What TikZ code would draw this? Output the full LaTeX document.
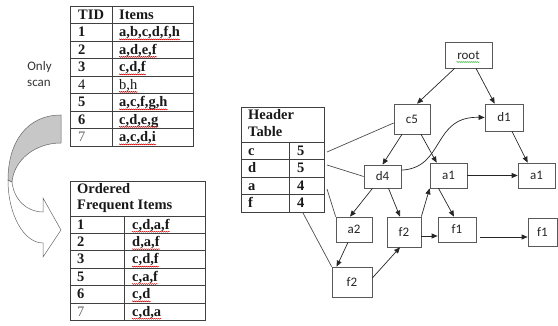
\documentclass[tikz,border=0pt]{standalone}
\usepackage{fontspec}
\setmainfont{Liberation Serif}
\newfontfamily\carl{Carlito}
\usetikzlibrary{arrows.meta,calc,decorations.pathmorphing}
\begin{document}
\begin{tikzpicture}[x=1pt,y=-1pt,
  grid/.style={draw=black!75,line width=0.8pt},
  tt/.style={anchor=base west,inner sep=0pt,font=\fontsize{14.5}{16}\selectfont\bfseries,text=black!90},
  tr/.style={anchor=base west,inner sep=0pt,font=\fontsize{14.5}{16}\selectfont,text=black!90},
  tn/.style 2 args={draw=black!65,line width=0.7pt,minimum width=#1,minimum height=#2,inner sep=0pt,font=\carl\fontsize{13}{15}\selectfont,text=black!85},
  edge/.style={draw=black!85,line width=0.7pt},
  arr/.style={edge,-{Triangle[length=6pt,width=5pt]}},
  sq/.style={draw=red!80!black,line width=0.4pt,decorate,decoration={snake,amplitude=0.5pt,segment length=2pt}},
  sqg/.style={sq,draw=green!60!black},
  lbl/.style={inner sep=0pt,font=\carl\fontsize{13}{15}\selectfont,text=black!80},
]
\useasboundingbox (0,0) rectangle (558,326);

% ---- curved arrow ----
\draw[draw=black!60,line width=0.5pt,fill=white] (8,180) .. controls (8,215) and (24,243) .. (43,243) -- (43,257) -- (61,230) -- (43,198) -- (43,212) .. controls (27,212) and (14,200) .. (12,182) -- cycle;
\draw[draw=black!60,line width=0.5pt,fill=black!22] (61,115) .. controls (27,115) and (8,142) .. (8,180) -- (12,182) .. controls (14,160) and (35,143) .. (61,143) -- cycle;
\node[lbl] (only) at (39.5,67) {Only};
\node[lbl] (scan) at (39,83) {scan};

% ---- table 1 ----
\draw[grid] (70,6) rectangle (193,146);
\foreach \y in {23.5,41,58.5,76,93.5,111,128.5} \draw[grid] (70,\y) -- (193,\y);
\draw[grid] (112,6) -- (112,146);
\node[tt] (h1) at (78,19.2) {TID};
\node[tt] (h2) at (119,19.2) {Items};
\node[tt] (n1) at (78,36.75) {1};  \node[tt] (i1) at (119,36.75) {a,b,c,d,f,h};
\node[tt] (n2) at (78,54.25) {2};  \node[tt] (i2) at (119,54.25) {a,d,e,f};
\node[tt] (n3) at (78,71.75) {3};  \node[tt] (i3) at (119,71.75) {c,d,f};
\node[tr] (n4) at (78,89.25) {4};  \node[tr] (i4) at (119,89.25) {b,h};
\node[tt] (n5) at (78,106.75) {5}; \node[tt] (i5) at (119,106.75) {a,c,f,g,h};
\node[tt] (n6) at (78,124.25) {6}; \node[tt] (i6) at (119,124.25) {c,d,e,g};
\node[tr,text=black!60] (n7) at (78,141.75) {7}; \node[tt] (i7) at (119,141.75) {a,c,d,i};

% ---- table 2 ----
\draw[grid] (70,181) rectangle (205,320.4);
\foreach \y in {216,233.4,250.8,268.2,285.6,303} \draw[grid] (70,\y) -- (205,\y);
\draw[grid] (124,216) -- (124,320.4);
\node[tt] (oh1) at (77,193.3) {Ordered};
\node[tt] (oh2) at (77,209.3) {Frequent Items};
\node[tt] (m1) at (77,229.2) {1}; \node[tt] (o1) at (132,229.2) {c,d,a,f};
\node[tt] (m2) at (77,246.6) {2}; \node[tt] (o2) at (132,246.6) {d,a,f};
\node[tt] (m3) at (77,264) {3};   \node[tt] (o3) at (132,264) {c,d,f};
\node[tt] (m5) at (77,281.4) {5}; \node[tt] (o4) at (132,281.4) {c,a,f};
\node[tt] (m6) at (77,298.8) {6}; \node[tt] (o5) at (132,298.8) {c,d};
\node[tr,text=black!60] (m7) at (77,316.2) {7}; \node[tt] (o6) at (132,316.2) {c,d,a};

\foreach \n in {i1,i2,i3,i4,i5,i6,i7,o1,o2,o3,o4,o5,o6}
  \draw[sq] ($(\n.base west)+(0pt,-2.6pt)$) -- ($(\n.base east)+(0pt,-2.6pt)$);

% ---- header table ----
\draw[grid] (241,107) rectangle (324,212);
\foreach \y in {142,159.5,177,194.5} \draw[grid] (241,\y) -- (324,\y);
\draw[grid] (289,142) -- (289,212);
\node[tt] (ht1) at (248,119.3) {Header};
\node[tt] (ht2) at (248,136.7) {Table};
\node[tt] (hlc) at (248,155.25) {c}; \node[tt] (hnc) at (297,155.25) {5};
\node[tt] (hld) at (248,172.75) {d}; \node[tt] (hnd) at (297,172.75) {5};
\node[tt] (hla) at (248,190.25) {a}; \node[tt] (hna) at (297,190.25) {4};
\node[tt] (hlf) at (248,207.75) {f}; \node[tt] (hnf) at (297,207.75) {4};

% ---- tree nodes ----
\node[tn={47pt}{26pt}] (root) at (468.5,55) {root};
\draw[sqg] ($(root.center)+(-12,7)$) -- ($(root.center)+(11,7)$);
\node[tn={36pt}{30pt}] (c5) at (412,119) {c5};
\node[tn={38pt}{27pt}] (d1) at (504,117.5) {d1};
\node[tn={37pt}{23pt}] (d4) at (382.5,176.5) {d4};
\node[tn={37pt}{25pt}] (a1m) at (448.5,175.5) {a1};
\node[tn={37pt}{25pt}] (a1r) at (536.5,175.5) {a1};
\node[tn={36pt}{25pt}] (a2) at (354,229.5) {a2};
\node[tn={34pt}{30pt}] (f2m) at (404,232) {f2};
\node[tn={38pt}{25pt}] (f1m) at (457,229.5) {f1};
\node[tn={40pt}{30pt}] (f2b) at (352,282) {f2};
\node[tn={29pt}{28pt}] (f1r) at (542.5,232) {f1};

% ---- tree edges ----
\draw[arr] ($(root.south west)+(10,0)$) -- ($(c5.north)+(5,0)$);
\draw[arr] ($(root.south)+(7.5,0)$) -- ($(d1.north west)+(10,0)$);
\draw[arr] ($(c5.south)+(-10,0)$) -- (d4.north);
\draw[arr] ($(c5.south)+(9,0)$) -- ($(a1m.north west)+(7,0)$);
\draw[arr] ($(d4.north east)+(0,5.5)$) .. controls (445,168) and (432,116) .. (d1.west);
\draw[arr] ($(d1.south)+(8,0)$) -- ($(a1r.north west)+(10,0)$);
\draw[arr] (a1m.east) -- (a1r.west);
\draw[arr] ($(d4.south)+(-10,0)$) -- ($(a2.north)+(-4,0)$);
\draw[arr] ($(d4.south)+(6,0)$) -- ($(f2m.north)+(-4,0)$);
\draw[arr] (f2m.north east) -- (a1m.south west);
\draw[arr] ($(a1m.south)+(-10,0)$) -- ($(f1m.north)+(-3,0)$);
\draw[arr] ($(f2m.east)+(0,4)$) -- ($(f1m.west)+(0,6.5)$);
\draw[arr] ($(f1m.east)+(4,7.5)$) -- ($(f1r.west)+(0,5)$);
\draw[arr] ($(a2.south)+(-6,0)$) -- ($(f2b.north west)+(5,0)$);
\draw[arr] ($(f2b.east)+(0,-4)$) -- ($(f2m.south)+(-4,0)$);

% ---- header links ----
\coordinate (hc) at (327,152);
\coordinate (hd) at (327,165);
\coordinate (ha) at (327,189);
\coordinate (hf) at (303,213);
\draw[edge,draw=black!70] (hc) -- ($(c5.west)+(0,4)$);
\draw[edge,draw=black!70] (hd) -- (d4.west);
\draw[edge,draw=black!70] (ha) -- (a2.north west);
\draw[edge,draw=black!70] (hf) -- (f2b.north west);
\end{tikzpicture}
\end{document}
